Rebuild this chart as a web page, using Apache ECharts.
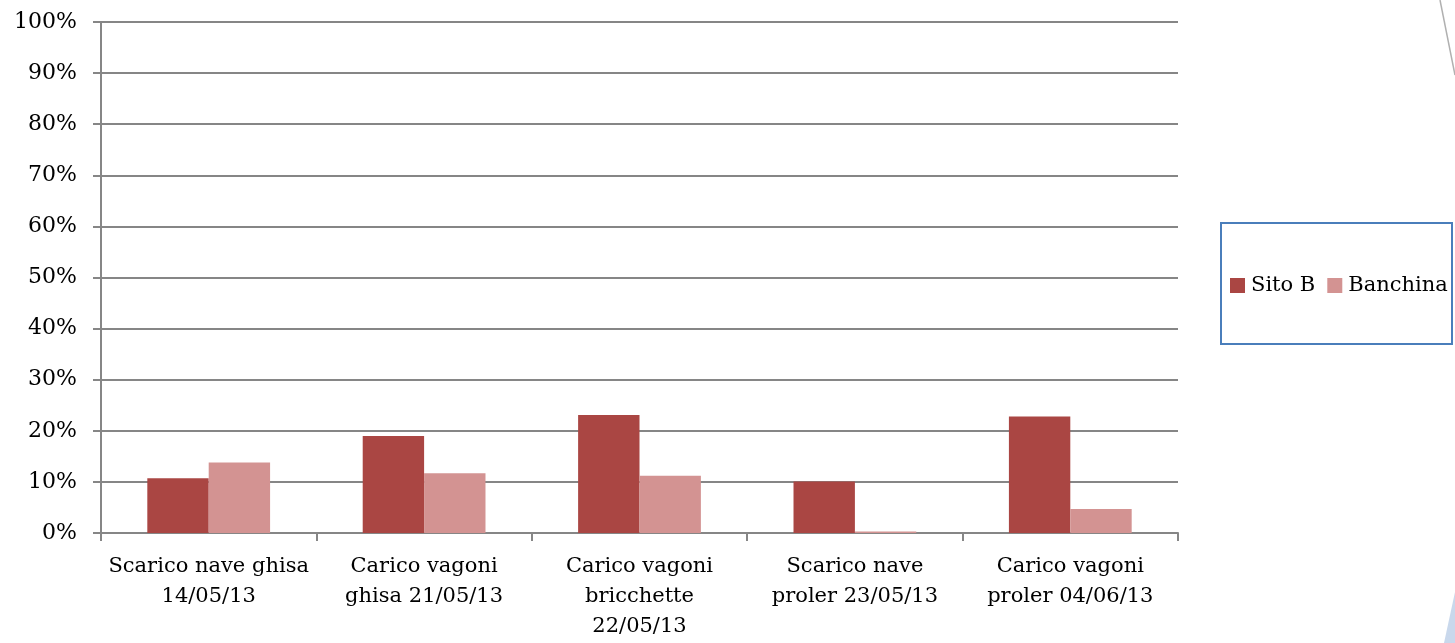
<!DOCTYPE html>
<html>
<head>
<meta charset="utf-8">
<script src="https://cdn.jsdelivr.net/npm/echarts@6/dist/echarts.min.js"></script>
<style>
  html, body { margin: 0; padding: 0; background: #fff; }
  #main { width: 1455px; height: 643px; }
</style>
</head>
<body>
<div id="main"></div>
<script>
// categorie (asse x)
var categorie = [
  'Scarico nave ghisa\n14/05/13',
  'Carico vagoni\nghisa 21/05/13',
  'Carico vagoni\nbricchette\n22/05/13',
  'Scarico nave\nproler 23/05/13',
  'Carico vagoni\nproler 04/06/13'
]
// valori in percentuale
var sitoB = [10.7, 19.0, 23.1, 10.1, 22.8]
var banchina = [13.8, 11.7, 11.2, 0.3, 4.7]

var font = 'DejaVu Serif'

var chart = echarts.init(document.getElementById('main'))
chart.setOption({
  animation: false,
  textStyle: { fontFamily: font },
  grid: {
    left: 101,
    right: 277,
    top: 22,
    bottom: 110,
    containLabel: false
  },
  legend: {
    left: 1230,
    top: 275,
    padding: 0,
    orient: 'horizontal',
    itemWidth: 15,
    itemHeight: 15,
    itemGap: 12,
    icon: 'rect',
    textStyle: { fontFamily: font, fontSize: 21, color: '#000', padding: [0, 0, 0, 1] },
    data: ['Sito B', 'Banchina']
  },
  xAxis: {
    type: 'category',
    data: categorie,
    axisLine: { lineStyle: { color: '#868686', width: 2 } },
    axisTick: { show: true, length: 8, lineStyle: { color: '#868686', width: 2 } },
    axisLabel: {
      color: '#000',
      fontSize: 21,
      lineHeight: 30,
      margin: 19,
      interval: 0
    }
  },
  yAxis: {
    type: 'value',
    min: 0,
    max: 100,
    interval: 10,
    axisLine: { show: true, lineStyle: { color: '#868686', width: 2 } },
    axisTick: { show: true, length: 8, lineStyle: { color: '#868686', width: 2 } },
    splitLine: { lineStyle: { color: '#868686', width: 2 } },
    axisLabel: {
      color: '#000',
      fontSize: 22,
      margin: 24,
      formatter: '{value}%'
    }
  },
  series: [
    {
      name: 'Sito B',
      type: 'bar',
      data: sitoB,
      barGap: '0%',
      barCategoryGap: '43%',
      itemStyle: { color: '#AA4643' }
    },
    {
      name: 'Banchina',
      type: 'bar',
      data: banchina,
      itemStyle: { color: '#D39392' }
    }
  ],
  graphic: [
    // riquadro legenda
    {
      type: 'rect',
      shape: { x: 1221, y: 223, width: 231, height: 121 },
      style: { fill: 'none', stroke: '#4A7EBB', lineWidth: 2 },
      z: 10
    },
    // decorazioni bordo destro
    {
      type: 'line',
      shape: { x1: 1440, y1: 0, x2: 1455, y2: 75 },
      style: { stroke: '#b0b0b0', lineWidth: 1.5 }
    },
    {
      type: 'polygon',
      shape: { points: [[1455, 592], [1455, 643], [1444, 643]] },
      style: { fill: '#c9d8ec' }
    }
  ]
})
</script>
</body>
</html>
